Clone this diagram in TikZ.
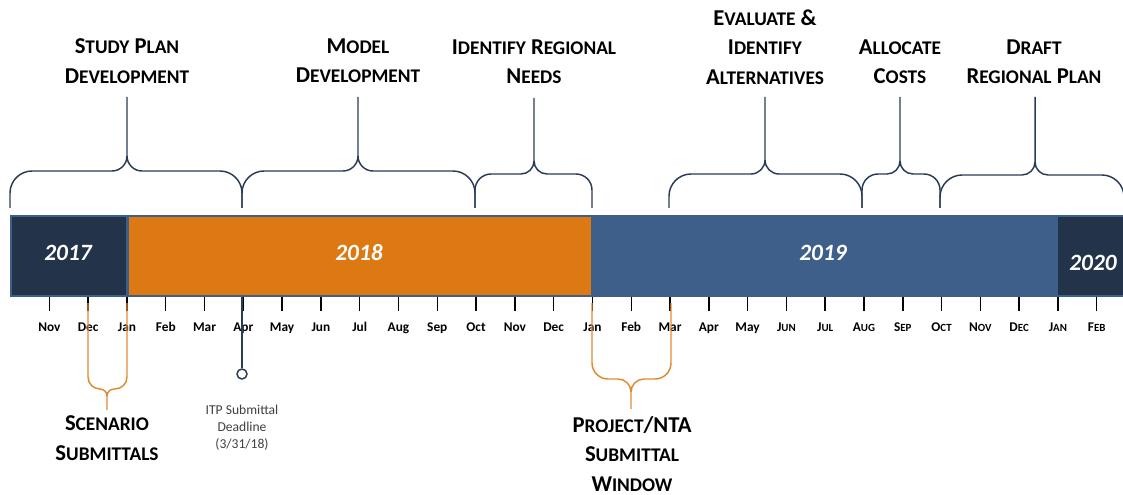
\documentclass[tikz,border=0pt]{standalone}
\usepackage{fontspec}
\setmainfont{Carlito}
\definecolor{barblue}{HTML}{3F5F8B}
\definecolor{navy}{HTML}{22334A}
\definecolor{orng}{HTML}{DC7912}
\definecolor{bracecol}{HTML}{2A3B55}
\definecolor{obrace}{HTML}{E08A2E}
\definecolor{itpgray}{HTML}{404040}
\newcommand\hs[1]{{\fontsize{14.5}{22}\selectfont #1}}
\newcommand\ms[1]{{\fontsize{8.2}{12}\selectfont #1}}
% xL xM xR yEnd yH yTip r rc s
\newcommand\mybrace[9]{%
 \draw ({#1},{#4}) -- ({#1},{#5+(#9)*(#7)}) .. controls ({#1},{#5+(#9)*0.45*(#7)}) and ({#1+0.45*(#7)},{#5}) .. ({#1+(#7)},{#5}) -- ({#2-(#8)},{#5}) .. controls ({#2-0.45*(#8)},{#5}) and ({#2},{#5-(#9)*0.45*(#8)}) .. ({#2},{#5-(#9)*(#8)}) -- ({#2},{#6})
 ({#3},{#4}) -- ({#3},{#5+(#9)*(#7)}) .. controls ({#3},{#5+(#9)*0.45*(#7)}) and ({#3-0.45*(#7)},{#5}) .. ({#3-(#7)},{#5}) -- ({#2+(#8)},{#5}) .. controls ({#2+0.45*(#8)},{#5}) and ({#2},{#5-(#9)*0.45*(#8)}) .. ({#2},{#5-(#9)*(#8)});}
\tikzset{
 heading/.style={font=\fontsize{17}{22}\selectfont\bfseries, align=center, inner sep=0pt, text=black},
 month/.style={font=\fontsize{10}{12}\selectfont\bfseries, anchor=base, inner sep=0pt, text=black},
 yearlbl/.style={font=\fontsize{17.5}{20}\selectfont\bfseries\itshape, text=white, anchor=base, inner sep=0pt},
 tickline/.style={draw=black, line width=1.1pt},
 itpnote/.style={font=\fontsize{10.2}{12.75}\selectfont, align=center, inner sep=0pt, text=itpgray},
}
\begin{document}
\begin{tikzpicture}[x=0.75pt,y=-0.75pt]
\useasboundingbox (0,0) rectangle (1123,495);
% bar
\fill[barblue] (9.5,215) rectangle (1130,297);
\fill[navy] (11.5,217) rectangle (126,295);
\fill[orng] (128.5,217) rectangle (590.5,295);
\fill[navy] (1058,217) rectangle (1130,295);
\node[yearlbl] (y17) at (68,260) {2017};
\node[yearlbl] (y18) at (359,260) {2018};
\node[yearlbl] (y19) at (823,260) {2019};
\node[yearlbl] (y20) at (1093,270) {2020};
% ticks and months
\foreach \m/\t in {1/Nov,2/Dec,3/Jan,4/Feb,5/Mar,6/Apr,7/May,8/Jun,9/Jul,10/Aug,11/Sep,12/Oct,13/Nov,14/Dec,15/Jan,16/Feb,17/Mar,18/Apr,19/May,20/{J\ms{UN}},21/{J\ms{UL}},22/{A\ms{UG}},23/{S\ms{EP}},24/{O\ms{CT}},25/{N\ms{OV}},26/{D\ms{EC}},27/{J\ms{AN}},28/{F\ms{EB}}}{
 \draw[tickline] ({10.6+38.79*\m},297) -- ({10.6+38.79*\m},311);
 \node[month] (m\m) at ({10.6+38.79*\m},331) {\t};
}
% ITP deadline
\coordinate (aprtick) at (242,297);
\node[circle, draw=bracecol, fill=white, line width=1.1pt, inner sep=0pt, minimum size=7.5pt] (itpdot) at (242,374) {};
\draw[bracecol, line width=1.1pt] (aprtick) -- (itpdot.north);
\node[itpnote] (itp) at (242,428) {ITP Submittal\\Deadline\\(3/31/18)};
% top braces
\begin{scope}[color=bracecol, line width=1.1pt, line join=round]
\mybrace{10}{127}{242}{208}{171}{97}{22}{15}{1}
\mybrace{242}{358}{475}{208}{171}{97}{22}{15}{1}
\mybrace{475}{534}{592}{208}{174}{98}{16}{13}{1}
\mybrace{669}{765}{862}{208}{174}{97}{22}{14}{1}
\mybrace{862}{900}{940}{208}{174}{97}{16}{13}{1}
\mybrace{940}{1035}{1124}{208}{175}{97}{22}{13}{1}
\end{scope}
% bottom orange braces
\begin{scope}[color=obrace, line width=1.1pt, line join=round]
\mybrace{88}{107}{127}{303}{389}{410}{12}{7}{-1}
\mybrace{592}{631}{671}{303}{379}{409}{16}{13}{-1}
\end{scope}
% headings
\node[heading] (h1) at (127,61) {S\hs{TUDY} P\hs{LAN}\\D\hs{EVELOPMENT}};
\node[heading] (h2) at (358,61) {M\hs{ODEL}\\D\hs{EVELOPMENT}};
\node[heading] (h3) at (534,62) {I\hs{DENTIFY} R\hs{EGIONAL}\\N\hs{EEDS}};
\node[heading] (h4) at (765,47) {E\hs{VALUATE} \&\\I\hs{DENTIFY}\\A\hs{LTERNATIVES}};
\node[heading] (h5) at (900,62) {A\hs{LLOCATE}\\C\hs{OSTS}};
\node[heading] (h6) at (1034,62) {D\hs{RAFT}\\R\hs{EGIONAL} P\hs{LAN}};
\node[heading] (s1) at (107,438) {S\hs{CENARIO}\\S\hs{UBMITTALS}};
\node[heading] (s2) at (632,454) {P\hs{ROJECT}/NTA\\S\hs{UBMITTAL}\\W\hs{INDOW}};
\end{tikzpicture}
\end{document}
